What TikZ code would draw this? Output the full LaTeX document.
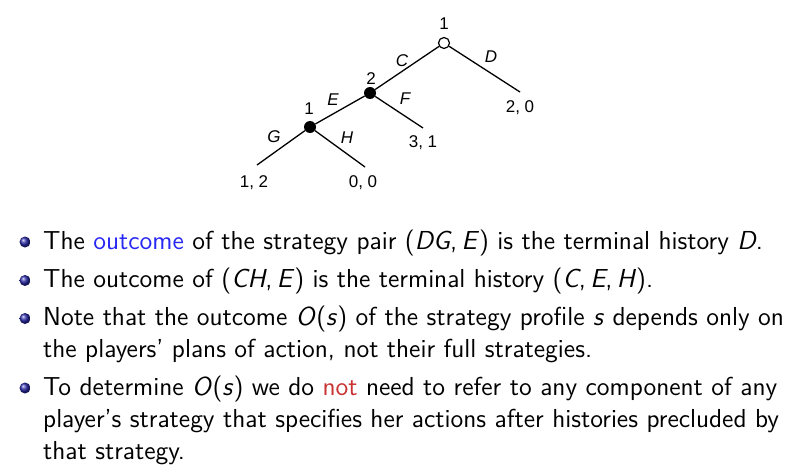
\documentclass[tikz,border=0pt]{standalone}
\usepackage{fontspec}
\usepackage{xcolor}
\setsansfont{lmsans12-regular.otf}[ItalicFont=lmsans12-oblique.otf, BoldFont=lmsans10-bold.otf]
\newfontfamily\treefont{Liberation Sans}
\definecolor{structure}{HTML}{2828F5}
\definecolor{alert}{HTML}{C83232}
\definecolor{ballblue}{HTML}{2A2AA8}

\begin{document}
\begin{tikzpicture}[x=1pt, y=-1pt, every node/.style={font=\sffamily},
    open/.style={circle, draw, line width=1.2pt, fill=white, minimum size=11pt, inner sep=0pt},
    dot/.style={circle, fill=black, minimum size=12pt, inner sep=0pt},
    act/.style={font=\treefont\itshape\fontsize{17}{20}\selectfont, inner sep=0pt},
    pay/.style={font=\treefont\fontsize{17}{20}\selectfont, inner sep=0pt},
    ball/.style={circle, shading=ball, ball color=ballblue, minimum size=11pt, inner sep=0pt},
    item/.style={anchor=base west, inner sep=0pt, align=left, font=\sffamily\fontsize{26}{32}\selectfont}]
    \useasboundingbox (0,0) rectangle (797,473);

    % Decision nodes
    \node[open] (root) at (444,43) {};
    \node[dot] (two) at (370,93) {};
    \node[dot] (one) at (310,127) {};
    \node[pay] (proot) at (444,24) {1};
    \node[pay] (ptwo) at (371,79) {2};
    \node[pay] (pone) at (309,109) {1};

    % Terminal histories
    \coordinate (endD) at (520,92);
    \coordinate (endF) at (423,128);
    \coordinate (endG) at (257,165);
    \coordinate (endH) at (365,167);
    \node[pay] (payD) at (520,108) {2, 0};
    \node[pay] (payF) at (423,143) {3, 1};
    \node[pay] (payG) at (254,183) {1, 2};
    \node[pay] (payH) at (363,183) {0, 0};

    % Actions
    \draw[line width=1.3pt] (root) -- (two);
    \draw[line width=1.3pt] (root) -- (endD);
    \draw[line width=1.3pt] (two) -- (one);
    \draw[line width=1.3pt] (two) -- (endF);
    \draw[line width=1.3pt] (one) -- (endG);
    \draw[line width=1.3pt] (one) -- (endH);
    \node[act] (actC) at (402,61) {C};
    \node[act] (actD) at (491,57) {D};
    \node[act] (actE) at (333,100) {E};
    \node[act] (actF) at (405,99) {F};
    \node[act] (actG) at (274,137) {G};
    \node[act] (actH) at (347,138) {H};

    % Bullets (multi-line items are placed by the baseline of their last line)
    \node[ball] (b1) at (25,242) {};
    \node[ball] (b2) at (25,280.5) {};
    \node[ball] (b3) at (25,318.5) {};
    \node[ball] (b4) at (25,388) {};
    \node[item] (t1) at (43,249) {The {\color{structure}outcome} of the strategy pair (\textit{DG},\,\textit{E}) is the terminal history \textit{D}.};
    \node[item] (t2) at (43,287.5) {The outcome of (\textit{CH},\,\textit{E}) is the terminal history (\textit{C},\,\textit{E},\,\textit{H}).};
    \node[item] (t3) at (43,357.5) {Note that the outcome \textit{O}(\textit{s}) of the strategy profile \textit{s} depends only on\\the players' plans of action, not their full strategies.};
    \node[item] (t4) at (43,459) {To determine \textit{O}(\textit{s}) we do {\color{alert}not} need to refer to any component of any\\player's strategy that specifies her actions after histories precluded by\\that strategy.};
  \end{tikzpicture}
\end{document}
